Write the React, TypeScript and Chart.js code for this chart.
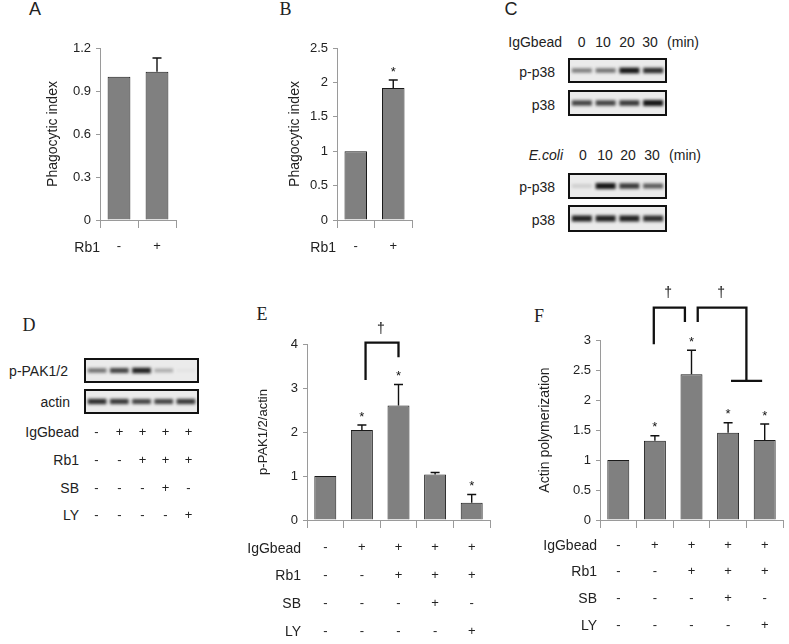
import React, { useEffect, useRef } from 'react';
import { Chart, registerables } from 'chart.js';
Chart.register(...registerables);

// ---------- Data ----------
const rb1AB = ['-', '+'];

const phagoA = [1.0, 1.035];
const phagoAErr = [0, 0.095];
const starsA = [false, false];
const yTicksA = [0, 0.3, 0.6, 0.9, 1.2];

const phagoB = [1.0, 1.92];
const phagoBErr = [0, 0.115];
const starsB = [false, true];
const yTicksB = [0, 0.5, 1, 1.5, 2, 2.5];

const rowNames = ['IgGbead', 'Rb1', 'SB', 'LY'];
const condIgG = ['-', '+', '+', '+', '+'];
const condRb1 = ['-', '-', '+', '+', '+'];
const condSB = ['-', '-', '-', '+', '-'];
const condLY = ['-', '-', '-', '-', '+'];

const pakValues = [1.0, 2.045, 2.6, 1.035, 0.39];
const pakErr = [0, 0.115, 0.48, 0.045, 0.19];
const pakStars = [false, true, true, false, true];
const yTicksE = [0, 1, 2, 3, 4];

const actinValues = [1.0, 1.32, 2.43, 1.455, 1.335];
const actinErr = [0, 0.085, 0.4, 0.165, 0.265];
const actinStars = [false, true, true, true, true];
const yTicksF = [0, 0.5, 1, 1.5, 2, 2.5, 3];

const bracketsE = [{ x1: 1.1, x2: 2.0, top: 4.03, y1: 3.18, y2: 3.7 }];
const daggersE = [{ x: 1.52, y: 4.34 }];
const bracketsF = [
  { x1: 0.97, x2: 1.82, top: 3.54, y1: 2.93, y2: 3.3 },
  { x1: 2.17, x2: 3.5, top: 3.54, y1: 3.3, y2: 2.32, foot: [3.08, 3.93] },
];
const daggersF = [
  { x: 1.36, y: 3.78 },
  { x: 2.81, y: 3.78 },
];

// Western blot band darkness (0..1)
const cTimes = ['0', '10', '20', '30'];
const iggPp38 = [0.5, 0.55, 0.95, 0.85];
const iggP38 = [0.75, 0.75, 0.8, 0.95];
const ecoliPp38 = [0.15, 0.95, 0.8, 0.65];
const ecoliP38 = [0.9, 0.9, 0.9, 0.85];
const dPak = [0.55, 0.75, 0.9, 0.3, 0.04];
const dActin = [0.85, 0.8, 0.75, 0.75, 0.8];

// ---------- Styles ----------
const SANS = 'Liberation Sans';
const SERIF = 'Liberation Serif';
const TEXT = '#222';
const AXIS = '#9a9a9a';
const BAR_FILL = '#808080';

type Bracket = { x1: number; x2: number; top: number; y1: number; y2: number; foot?: number[] };

interface BarPanelProps {
  left: number; top: number; width: number; height: number;
  padTop: number; padRight: number; yAxisW: number; xAxisH: number;
  values: number[]; errors: number[]; stars: boolean[]; yTicks: number[];
  yTitle: string; titleSize: number; titlePad: number;
  rows: string[][]; rowLH: string; xPad: number;
  brackets?: Bracket[]; daggers?: { x: number; y: number }[];
}

function BarPanel(p: BarPanelProps) {
  const ref = useRef<HTMLCanvasElement>(null);
  useEffect(() => {
    const labels = p.values.map((_, i) => p.rows.map((r) => r[i]));
    const annot = {
      id: 'annot',
      afterDatasetsDraw(chart: any) {
        const { ctx } = chart;
        const x = chart.scales.x;
        const y = chart.scales.y;
        const meta = chart.getDatasetMeta(0);
        ctx.save();
        ctx.strokeStyle = '#111';
        ctx.fillStyle = '#111';
        ctx.lineWidth = 1.4;
        ctx.textAlign = 'center';
        ctx.textBaseline = 'middle';
        ctx.font = `13px "${SANS}"`;
        meta.data.forEach((bar: any, i: number) => {
          const v = p.values[i];
          const e = p.errors[i];
          const yTop = y.getPixelForValue(v);
          const yE = y.getPixelForValue(v + e);
          if (e > 0) {
            ctx.beginPath();
            ctx.moveTo(bar.x, yTop);
            ctx.lineTo(bar.x, yE);
            ctx.moveTo(bar.x - 4.5, yE);
            ctx.lineTo(bar.x + 4.5, yE);
            ctx.stroke();
          }
          if (p.stars[i]) ctx.fillText('*', bar.x, yE - 8);
        });
        ctx.lineWidth = 2.3;
        (p.brackets || []).forEach((b) => {
          const xa = x.getPixelForValue(b.x1);
          const xb = x.getPixelForValue(b.x2);
          const yt = y.getPixelForValue(b.top);
          ctx.beginPath();
          ctx.moveTo(xa, y.getPixelForValue(b.y1));
          ctx.lineTo(xa, yt);
          ctx.lineTo(xb, yt);
          ctx.lineTo(xb, y.getPixelForValue(b.y2));
          if (b.foot) {
            const yf = y.getPixelForValue(b.y2);
            ctx.moveTo(x.getPixelForValue(b.foot[0]), yf);
            ctx.lineTo(x.getPixelForValue(b.foot[1]), yf);
          }
          ctx.stroke();
        });
        ctx.font = `14px "${SANS}"`;
        (p.daggers || []).forEach((d) => {
          ctx.fillText('\u2020', x.getPixelForValue(d.x), y.getPixelForValue(d.y));
        });
        ctx.restore();
      },
    };
    const chart = new Chart(ref.current as HTMLCanvasElement, {
      type: 'bar',
      data: {
        labels,
        datasets: [
          {
            data: p.values,
            backgroundColor: BAR_FILL,
            borderColor: '#1a1a1a',
            borderWidth: 1,
            categoryPercentage: 1,
            barPercentage: 0.6,
          },
        ],
      },
      options: {
        responsive: false,
        animation: false,
        events: [],
        layout: { padding: { left: 0, top: p.padTop, right: p.padRight, bottom: 0 } },
        plugins: { legend: { display: false }, tooltip: { enabled: false } },
        scales: {
          x: {
            grid: { display: true, drawOnChartArea: false, drawTicks: true, tickLength: 8, color: AXIS, offset: true },
            border: { display: true, color: AXIS },
            ticks: {
              autoSkip: false,
              maxRotation: 0,
              font: { family: SANS, size: 13, lineHeight: p.rowLH },
              color: TEXT,
              padding: p.xPad,
            },
            afterFit: (s: any) => { s.height = p.xAxisH; },
          },
          y: {
            min: 0,
            max: p.yTicks[p.yTicks.length - 1],
            grid: { drawOnChartArea: false, drawTicks: true, tickLength: 4, color: AXIS },
            border: { display: true, color: AXIS },
            ticks: {
              font: { family: SANS, size: 13 },
              color: TEXT,
              padding: 5,
              callback: (v: any) => String(v),
            },
            afterBuildTicks: (s: any) => { s.ticks = p.yTicks.map((v) => ({ value: v })); },
            afterFit: (s: any) => { s.width = p.yAxisW; },
            title: {
              display: true,
              text: p.yTitle,
              font: { family: SANS, size: p.titleSize },
              color: TEXT,
              padding: { top: p.titlePad, bottom: 0 },
            },
          },
        },
      } as any,
      plugins: [annot],
    });
    return () => chart.destroy();
  }, []);
  return (
    <canvas
      ref={ref}
      width={p.width}
      height={p.height}
      style={{ position: 'absolute', left: p.left, top: p.top, width: p.width, height: p.height }}
    />
  );
}

function Blot({ left, top, width, height, bands }: { left: number; top: number; width: number; height: number; bands: number[] }) {
  const ref = useRef<HTMLCanvasElement>(null);
  useEffect(() => {
    const blur = {
      id: 'blur',
      beforeDatasetsDraw(chart: any) { chart.ctx.save(); chart.ctx.filter = 'blur(1.5px)'; },
      afterDatasetsDraw(chart: any) { chart.ctx.restore(); },
    };
    const chart = new Chart(ref.current as HTMLCanvasElement, {
      type: 'bar',
      data: {
        labels: bands.map((_, i) => String(i)),
        datasets: [
          {
            data: bands.map((v) => [-(0.12 + 0.16 * v), 0.12 + 0.16 * v]) as any,
            backgroundColor: bands.map((v) => `rgba(10,10,10,${v})`),
            borderWidth: 0,
            categoryPercentage: 1,
            barPercentage: 0.84,
          },
        ],
      },
      options: {
        responsive: false,
        animation: false,
        events: [],
        layout: { padding: 0 },
        plugins: { legend: { display: false }, tooltip: { enabled: false } },
        scales: { x: { display: false }, y: { display: false, min: -1, max: 1 } },
      } as any,
      plugins: [blur],
    });
    return () => chart.destroy();
  }, []);
  return (
    <div
      style={{
        position: 'absolute', left, top, width, height, boxSizing: 'border-box',
        border: '2px solid #111', background: '#ebebeb',
      }}
    >
      <canvas ref={ref} width={width - 4} height={height - 4} style={{ display: 'block', width: width - 4, height: height - 4 }} />
    </div>
  );
}

function T({ x, y, text, align = 'center', size = 14, serif = false, italic = false }:
  { x: number; y: number; text: string; align?: string; size?: number; serif?: boolean; italic?: boolean }) {
  const style: any = {
    position: 'absolute', top: y - size * 0.6, lineHeight: `${size * 1.2}px`, fontSize: size,
    fontFamily: serif ? SERIF : SANS, fontStyle: italic ? 'italic' : 'normal', color: TEXT, whiteSpace: 'nowrap',
  };
  if (align === 'right') style.right = 789 - x;
  else if (align === 'left') style.left = x;
  else { style.left = x; style.transform = 'translateX(-50%)'; }
  return <div style={style}>{text}</div>;
}

export default function App() {
  const condRows = [condIgG, condRb1, condSB, condLY];
  const cLaneX1 = [581.7, 603, 627, 650];
  const cLaneX2 = [583, 605, 628, 652];
  const dBoxLeft = 84;
  const dLaneW = 115 / condIgG.length;
  const dRowY = [432, 460, 488, 515];
  const eRowY = [548, 575.7, 603.4, 631.1];
  const fRowY = [545, 571.7, 598.4, 625.1];
  return (
    <div style={{ position: 'absolute', left: 0, top: 0, width: 789, height: 644, overflow: 'hidden', background: '#fff' }}>
      {/* Panel letters */}
      <T x={35} y={10} text="A" size={18} />
      <T x={285.5} y={10} text="B" size={18} serif />
      <T x={511} y={10} text="C" size={18} />
      <T x={29} y={326} text="D" size={18} serif />
      <T x={262} y={315} text="E" size={18} serif />
      <T x={539} y={317} text="F" size={18} serif />

      {/* A */}
      <BarPanel left={0} top={0} width={200} height={260} padTop={48} padRight={24} yAxisW={100} xAxisH={40}
        values={phagoA} errors={phagoAErr} stars={starsA} yTicks={yTicksA}
        yTitle="Phagocytic index" titleSize={14} titlePad={44.6}
        rows={[rb1AB]} rowLH="15.6px" xPad={11} />
      <T x={100} y={247} text="Rb1" align="right" />

      {/* B */}
      <BarPanel left={230} top={0} width={200} height={260} padTop={48} padRight={18} yAxisW={107} xAxisH={40}
        values={phagoB} errors={phagoBErr} stars={starsB} yTicks={yTicksB}
        yTitle="Phagocytic index" titleSize={14} titlePad={57}
        rows={[rb1AB]} rowLH="15.6px" xPad={11} />
      <T x={336} y={247} text="Rb1" align="right" />

      {/* C */}
      <T x={562} y={42.7} text="IgGbead" align="right" />
      {cTimes.map((t, i) => <T key={'c1' + i} x={cLaneX1[i]} y={42.7} text={t} />)}
      <T x={683} y={42.7} text="(min)" />
      <T x={555} y={72} text="p-p38" align="right" />
      <T x={555} y={105} text="p38" align="right" />
      <Blot left={568} top={58} width={99} height={25} bands={iggPp38} />
      <Blot left={568} top={90} width={99} height={26} bands={iggP38} />
      <T x={563} y={155} text="E.coli" align="right" italic />
      {cTimes.map((t, i) => <T key={'c2' + i} x={cLaneX2[i]} y={155} text={t} />)}
      <T x={685} y={155} text="(min)" />
      <T x={555} y={187} text="p-p38" align="right" />
      <T x={555} y={220} text="p38" align="right" />
      <Blot left={568} top={173} width={99} height={26} bands={ecoliPp38} />
      <Blot left={568} top={205} width={99} height={27} bands={ecoliP38} />

      {/* D */}
      <T x={68} y={371} text="p-PAK1/2" align="right" />
      <T x={70} y={402} text="actin" align="right" />
      <Blot left={dBoxLeft} top={358} width={115} height={25} bands={dPak} />
      <Blot left={dBoxLeft} top={389} width={115} height={25} bands={dActin} />
      {rowNames.map((n, r) => <T key={'dn' + r} x={79} y={dRowY[r]} text={n} align="right" />)}
      {condRows.map((row, r) => row.map((s, i) => (
        <T key={'dc' + r + '-' + i} x={dBoxLeft + (i + 0.5) * dLaneW + 1} y={dRowY[r]} text={s} size={13} />
      )))}

      {/* E */}
      <BarPanel left={220} top={300} width={280} height={340} padTop={44} padRight={10} yAxisW={87} xAxisH={120}
        values={pakValues} errors={pakErr} stars={pakStars} yTicks={yTicksE}
        yTitle="p-PAK1/2/actin" titleSize={13} titlePad={35.2}
        rows={condRows} rowLH="27.7px" xPad={6} brackets={bracketsE} daggers={daggersE} />
      {rowNames.map((n, r) => <T key={'en' + r} x={301} y={eRowY[r]} text={n} align="right" />)}

      {/* F */}
      <BarPanel left={500} top={280} width={289} height={360} padTop={60} padRight={6} yAxisW={100} xAxisH={120}
        values={actinValues} errors={actinErr} stars={actinStars} yTicks={yTicksF}
        yTitle="Actin polymerization" titleSize={14} titlePad={36.6}
        rows={condRows} rowLH="26.7px" xPad={3.6} brackets={bracketsF} daggers={daggersF} />
      {rowNames.map((n, r) => <T key={'fn' + r} x={597} y={fRowY[r]} text={n} align="right" />)}
    </div>
  );
}
